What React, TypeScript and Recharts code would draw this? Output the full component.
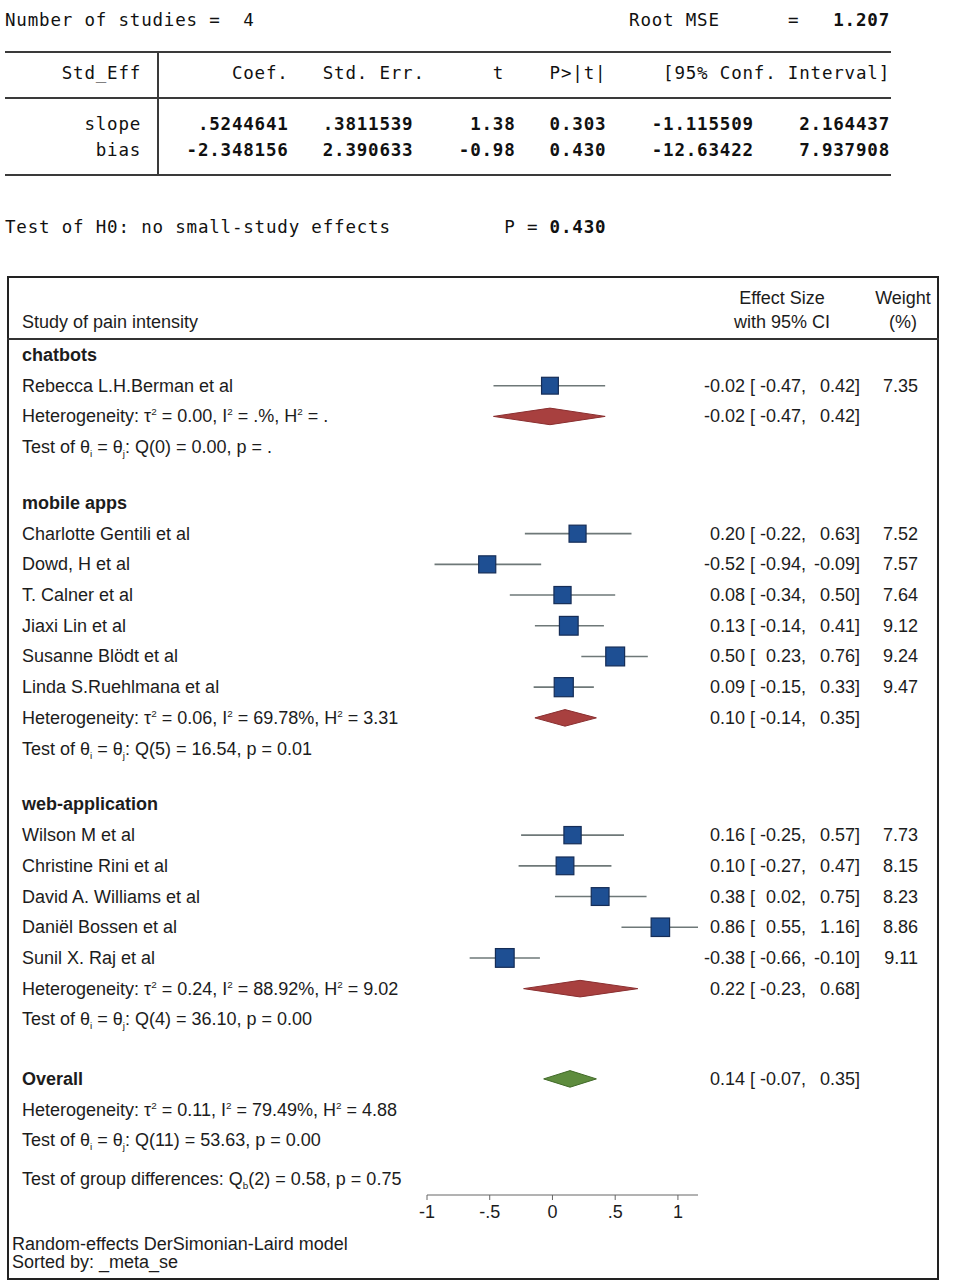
import React from 'react';
import { ScatterChart, Scatter, XAxis, YAxis, ErrorBar, ReferenceArea } from 'recharts';

// Egger-type regression test for small-study effects (Stata text output)
const eggerTerms = ['slope', 'bias'];
const eggerCoef = ['.5244641', '-2.348156'];
const eggerSE = ['.3811539', '2.390633'];
const eggerT = ['1.38', '-0.98'];
const eggerP = ['0.303', '0.430'];
const eggerLo = ['-1.115509', '-12.63422'];
const eggerHi = ['2.164437', '7.937908'];
const eggerStudies = '4';
const eggerRootMSE = '1.207';
const eggerTestP = '0.430';

// forest plot
const groupNames = ['chatbots', 'mobile apps', 'web-application'];
const studyNames = [
  'Rebecca L.H.Berman et al',
  'Charlotte Gentili et al',
  'Dowd, H et al',
  'T. Calner et al',
  'Jiaxi Lin et al',
  'Susanne Blödt et al',
  'Linda S.Ruehlmana et al',
  'Wilson M et al',
  'Christine Rini et al',
  'David A. Williams et al',
  'Daniël Bossen et al',
  'Sunil X. Raj et al',
];
const studyGroup = [0, 1, 1, 1, 1, 1, 1, 2, 2, 2, 2, 2];
const studyES = [-0.02, 0.2, -0.52, 0.08, 0.13, 0.5, 0.09, 0.16, 0.1, 0.38, 0.86, -0.38];
const studyLo = [-0.47, -0.22, -0.94, -0.34, -0.14, 0.23, -0.15, -0.25, -0.27, 0.02, 0.55, -0.66];
const studyHi = [0.42, 0.63, -0.09, 0.5, 0.41, 0.76, 0.33, 0.57, 0.47, 0.75, 1.16, -0.1];
const studyWeight = [7.35, 7.52, 7.57, 7.64, 9.12, 9.24, 9.47, 7.73, 8.15, 8.23, 8.86, 9.11];

const groupES = [-0.02, 0.1, 0.22];
const groupLo = [-0.47, -0.14, -0.23];
const groupHi = [0.42, 0.35, 0.68];
const groupHet = [
  'Heterogeneity: τ^2 = 0.00, I^2 = .%, H^2 = .',
  'Heterogeneity: τ^2 = 0.06, I^2 = 69.78%, H^2 = 3.31',
  'Heterogeneity: τ^2 = 0.24, I^2 = 88.92%, H^2 = 9.02',
];
const groupTest = [
  'Test of θ_i = θ_j: Q(0) = 0.00, p = .',
  'Test of θ_i = θ_j: Q(5) = 16.54, p = 0.01',
  'Test of θ_i = θ_j: Q(4) = 36.10, p = 0.00',
];

const overallES = 0.14;
const overallLo = -0.07;
const overallHi = 0.35;
const overallHet = 'Heterogeneity: τ^2 = 0.11, I^2 = 79.49%, H^2 = 4.88';
const overallTest = 'Test of θ_i = θ_j: Q(11) = 53.63, p = 0.00';
const groupDiffTest = 'Test of group differences: Q_b(2) = 0.58, p = 0.75';

const xTicks = [-1, -0.5, 0, 0.5, 1];
const xTickLabels = ['-1', '-.5', '0', '.5', '1'];

const SANS = '"Liberation Sans", Arial, sans-serif';
const MONO = '"DejaVu Sans Mono", "Liberation Mono", monospace';
const INK = '#1c1c1c';

// layout
const PLOT_TOP = 339;
const PLOT_BOTTOM = 1195;
const FIRST_ROW_Y = 355;
const ROW_PX = 30.7;
const GROUP_GAP = 0.82;
const OVERALL_GAP = 0.94;
const DIFF_GAP = 0.26;

type Row = {
  pos: number;
  label: string;
  bold?: boolean;
  es?: number;
  lo?: number;
  hi?: number;
  weight?: number;
};

const rows: Row[] = [];
const studies: any[] = [];
const diamonds: { pos: number; es: number; lo: number; hi: number; fill: string; edge: string }[] = [];

let pos = 0;
groupNames.forEach((g, gi) => {
  if (gi > 0) pos += GROUP_GAP;
  rows.push({ pos: pos++, label: g, bold: true });
  studyNames.forEach((name, i) => {
    if (studyGroup[i] !== gi) return;
    const r = { pos: pos++, label: name, es: studyES[i], lo: studyLo[i], hi: studyHi[i], weight: studyWeight[i] };
    rows.push(r);
    studies.push({ ...r, row: r.pos, err: [studyES[i] - studyLo[i], studyHi[i] - studyES[i]] });
  });
  const het = { pos: pos++, label: groupHet[gi], es: groupES[gi], lo: groupLo[gi], hi: groupHi[gi] };
  rows.push(het);
  diamonds.push({ pos: het.pos, es: groupES[gi], lo: groupLo[gi], hi: groupHi[gi], fill: '#a8403f', edge: '#8a2f30' });
  rows.push({ pos: pos++, label: groupTest[gi] });
});
pos += OVERALL_GAP;
const overallRow = { pos: pos++, label: 'Overall', bold: true, es: overallES, lo: overallLo, hi: overallHi };
rows.push(overallRow);
diamonds.push({ pos: overallRow.pos, es: overallES, lo: overallLo, hi: overallHi, fill: '#5e8c3e', edge: '#416a29' });
rows.push({ pos: pos++, label: overallHet });
rows.push({ pos: pos++, label: overallTest });
pos += DIFF_GAP;
rows.push({ pos: pos++, label: groupDiffTest });

const Y_TOP = (PLOT_TOP - FIRST_ROW_Y) / ROW_PX;
const Y_BOTTOM = (PLOT_BOTTOM - FIRST_ROW_Y) / ROW_PX;

function richSpans(label: string, size: number) {
  const parts = label.split(/(\^.|_.)/);
  const out: React.ReactNode[] = [];
  let shift = 0;
  parts.forEach((part, i) => {
    if (!part) return;
    if (part[0] === '^' || part[0] === '_') {
      const d = part[0] === '^' ? -7 : 4;
      out.push(
        <tspan key={i} dy={d - shift} fontSize={size * 0.55}>
          {part.slice(1)}
        </tspan>
      );
      shift = d;
    } else {
      out.push(
        <tspan key={i} dy={-shift} fontSize={size}>
          {part}
        </tspan>
      );
      shift = 0;
    }
  });
  return out;
}

function RowTick(props: any) {
  const { y, payload } = props;
  const row = rows.find((r) => Math.abs(r.pos - payload.value) < 1e-6);
  if (!row) return null;
  const base = y + 6;
  const txt = { fontFamily: SANS, fontSize: 18, fill: INK };
  return (
    <g>
      <text x={22} y={base} {...txt} fontWeight={row.bold ? 700 : 400}>
        {richSpans(row.label, 18)}
      </text>
      {row.es !== undefined && (
        <g>
          <text x={745} y={base} textAnchor="end" {...txt}>{row.es.toFixed(2)}</text>
          <text x={750} y={base} {...txt}>[</text>
          <text x={806} y={base} textAnchor="end" {...txt}>{row.lo!.toFixed(2)},</text>
          <text x={860} y={base} textAnchor="end" {...txt}>{row.hi!.toFixed(2)}]</text>
        </g>
      )}
      {row.weight !== undefined && (
        <text x={918} y={base} textAnchor="end" {...txt}>{row.weight.toFixed(2)}</text>
      )}
    </g>
  );
}

function Square(props: any) {
  const { cx, cy, payload } = props;
  const side = 6.2 * Math.sqrt(payload.weight);
  return (
    <rect
      x={cx - side / 2}
      y={cy - side / 2}
      width={side}
      height={side}
      fill="#1e4f93"
      stroke="#152d57"
      strokeWidth={1.2}
    />
  );
}

function Diamond(props: any) {
  const { x, y, width, height, d } = props;
  const cx = x + (width * (d.es - d.lo)) / (d.hi - d.lo);
  const cy = y + height / 2;
  const pts = `${x},${cy} ${cx},${y} ${x + width},${cy} ${cx},${y + height}`;
  return <polygon points={pts} fill={d.fill} stroke={d.edge} strokeWidth={1} />;
}

type Seg = [string, boolean];

function eggerLines(): { top: number; segs: Seg[] }[] {
  const lines: { top: number; segs: Seg[] }[] = [];
  lines.push({
    top: 20,
    segs: [
      ['Number of studies =  ', false],
      [eggerStudies, false],
      [''.padEnd(55 - 21 - eggerStudies.length) + 'Root MSE'.padEnd(14) + '=', false],
      [eggerRootMSE.padStart(8), true],
    ],
  });
  lines.push({
    top: 73,
    segs: [
      [
        'Std_Eff'.padStart(12) +
          '  ' +
          'Coef.'.padStart(11) +
          'Std. Err.'.padStart(12) +
          't'.padStart(7) +
          'P>|t|'.padStart(9) +
          '[95% Conf. Interval]'.padStart(25),
        false,
      ],
    ],
  });
  eggerTerms.forEach((term, i) => {
    lines.push({
      top: 124 + i * 26,
      segs: [
        [term.padStart(12) + '  ', false],
        [
          eggerCoef[i].padStart(11) +
            eggerSE[i].padStart(11) +
            eggerT[i].padStart(9) +
            eggerP[i].padStart(8) +
            eggerLo[i].padStart(13) +
            eggerHi[i].padStart(12),
          true,
        ],
      ],
    });
  });
  lines.push({
    top: 227,
    segs: [
      ['Test of H0: no small-study effects'.padEnd(44) + 'P = ', false],
      [eggerTestP, true],
    ],
  });
  return lines;
}

function EggerTable() {
  const rule = (top: number) => (
    <div style={{ position: 'absolute', left: 5, top, width: 886, height: 2, background: '#3a3a3a' }} />
  );
  return (
    <>
      {eggerLines().map((ln, i) => (
        <div
          key={i}
          style={{
            position: 'absolute',
            left: 5,
            top: ln.top - 11,
            height: 22,
            lineHeight: '22px',
            fontFamily: MONO,
            fontSize: 17.5,
            letterSpacing: 0.81,
            whiteSpace: 'pre',
            color: '#111',
          }}
        >
          {ln.segs.map(([t, b], j) => (
            <span key={j} style={{ fontWeight: b ? 600 : 400 }}>
              {t}
            </span>
          ))}
        </div>
      ))}
      {rule(51)}
      {rule(97)}
      {rule(174)}
      <div style={{ position: 'absolute', left: 157, top: 52, width: 2, height: 123, background: '#3a3a3a' }} />
    </>
  );
}

function Label({ x, y, text, anchor = 'start', weight = 400 }: any) {
  const shift = anchor === 'middle' ? '-50%' : '0';
  return (
    <div
      style={{
        position: 'absolute',
        left: x,
        top: y - 11,
        lineHeight: '22px',
        fontFamily: SANS,
        fontSize: 18,
        fontWeight: weight,
        color: INK,
        whiteSpace: 'pre',
        transform: `translateX(${shift})`,
      }}
    >
      {text}
    </div>
  );
}

export default function App() {
  return (
    <div style={{ position: 'absolute', left: 0, top: 0, width: 959, height: 1288, background: '#fff' }}>
      <EggerTable />
      <div style={{ position: 'absolute', left: 0, top: 0 }}>
        <ScatterChart width={959} height={1288} margin={{ top: PLOT_TOP, right: 261, bottom: 53, left: 0 }}>
          <XAxis
            type="number"
            dataKey="es"
            domain={[-1, 1.16]}
            allowDataOverflow
            ticks={xTicks}
            interval={0}
            tickFormatter={(v: number) => xTickLabels[xTicks.indexOf(v)]}
            tickSize={5}
            tickMargin={5}
            height={40}
            stroke="#666"
            tick={{ fontSize: 18, fill: INK, fontFamily: SANS }}
          />
          <YAxis
            type="number"
            dataKey="row"
            domain={[Y_TOP, Y_BOTTOM]}
            reversed
            allowDataOverflow
            width={427}
            ticks={rows.map((r) => r.pos)}
            interval={0}
            axisLine={false}
            tickLine={false}
            tick={(p: any) => <RowTick {...p} />}
          />
          {diamonds.map((d, i) => (
            <ReferenceArea
              key={i}
              x1={d.lo}
              x2={d.hi}
              y1={d.pos - 0.27}
              y2={d.pos + 0.27}
              ifOverflow="visible"
              shape={(p: any) => <Diamond {...p} d={d} />}
            />
          ))}
          <Scatter data={studies} isAnimationActive={false} shape={() => <g />}>
            <ErrorBar dataKey="err" direction="x" width={0} stroke="#6e7878" strokeWidth={1.6} />
          </Scatter>
          <Scatter data={studies} isAnimationActive={false} shape={(p: any) => <Square {...p} />} />
        </ScatterChart>
      </div>
      <div
        style={{
          position: 'absolute',
          left: 7,
          top: 276,
          width: 932,
          height: 1004,
          border: '2px solid #222',
          boxSizing: 'border-box',
          pointerEvents: 'none',
        }}
      />
      <div style={{ position: 'absolute', left: 7, top: 338, width: 932, height: 2, background: '#333' }} />
      <Label x={22} y={322} text="Study of pain intensity" />
      <Label x={782} y={298} text="Effect Size" anchor="middle" />
      <Label x={782} y={322} text="with 95% CI" anchor="middle" />
      <Label x={903} y={298} text="Weight" anchor="middle" />
      <Label x={903} y={322} text="(%)" anchor="middle" />
      <Label x={12} y={1244} text="Random-effects DerSimonian-Laird model" />
      <Label x={12} y={1262} text="Sorted by: _meta_se" />
    </div>
  );
}
